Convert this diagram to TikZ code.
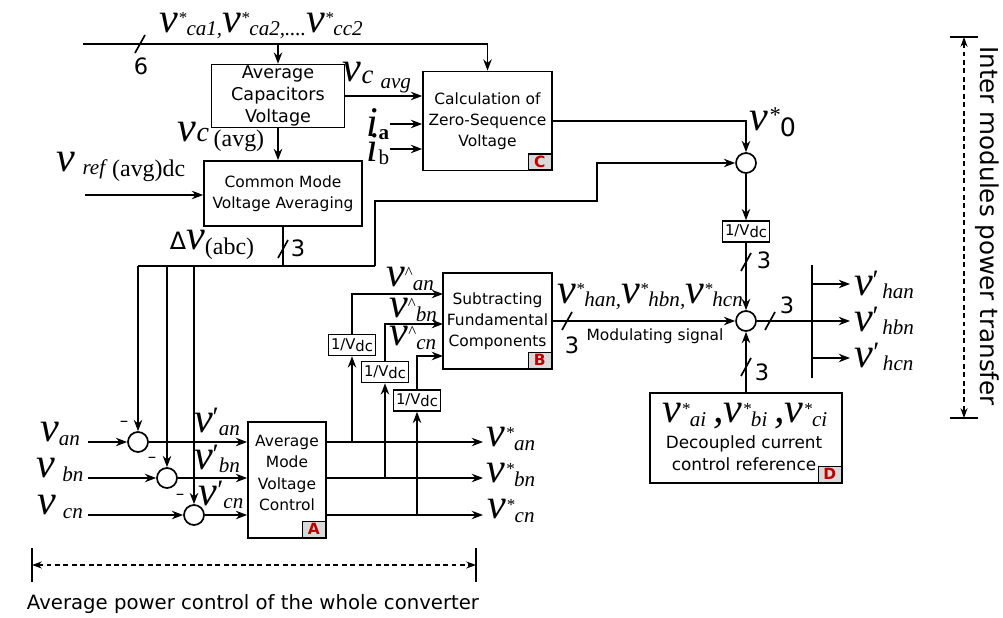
\documentclass[tikz,border=0pt]{standalone}
\usepackage{fontspec}
\setsansfont{DejaVu Sans}
\newfontfamily\tms{Liberation Serif}
\usetikzlibrary{arrows.meta}
\definecolor{tagRed}{HTML}{C00000}
\definecolor{tagGray}{HTML}{D9D9D9}
\newcommand\lsub[1]{\raisebox{-2.5pt}{\fontsize{15}{15}\selectfont #1}}
\newcommand\lsup[1]{\raisebox{6pt}{\fontsize{12}{12}\selectfont #1}}
\newcommand\vst[1]{v\lsup{*}\lsub{#1}}
\newcommand\vhat[1]{v\lsup{\upshape\textasciicircum}\lsub{#1}}
\newcommand\vpr[1]{v\raisebox{4pt}{\fontsize{20}{20}\selectfont\upshape\char"2032}\lsub{#1}}

\begin{document}
\begin{tikzpicture}[x=0.025cm,y=-0.025cm,line width=1.2pt,
  blk/.style={draw,line width=1.2pt,font=\sffamily\fontsize{11}{15}\selectfont,
              align=center,inner sep=1pt},
  gain/.style={draw,line width=1.1pt,font=\sffamily\fontsize{10.5}{11}\selectfont,
               minimum width=1.175cm,minimum height=0.525cm,inner sep=1pt},
  sumc/.style={draw,circle,line width=1.2pt,minimum size=0.5cm,inner sep=0pt},
  tag/.style={draw,line width=1pt,fill=tagGray,text=tagRed,font=\sffamily\bfseries\fontsize{11}{11}\selectfont,
              minimum width=0.575cm,minimum height=0.4cm,inner sep=0pt,anchor=south east},
  lbl/.style={font=\tms\itshape\fontsize{30}{30}\selectfont,inner sep=0pt},
  num/.style={font=\sffamily\fontsize{16}{16}\selectfont,inner sep=0pt},
  note/.style={font=\sffamily\fontsize{11}{15}\selectfont,inner sep=0pt,align=center},
  arr/.style={-{Stealth[length=8pt,width=6pt]}},
  dim/.style={line width=0.9pt,dash pattern=on 3.5pt off 2.5pt,
              {Stealth[length=7pt,width=5pt]}-{Stealth[length=7pt,width=5pt]}}]
\useasboundingbox (0,0) rectangle (1003,617);

%% Blocks
\node[blk,font=\sffamily\fontsize{12.5}{15.5}\selectfont,minimum width=3.325cm,minimum height=1.55cm]
  (acv) at (278,96) {Average\\Capacitors\\Voltage};
\node[blk,minimum width=3.225cm,minimum height=2.475cm] (zsv) at (487.5,121) {Calculation of\\Zero-Sequence\\Voltage};
\node[blk,minimum width=3.95cm,minimum height=1.625cm] (cmv) at (283,193.5) {Common Mode\\Voltage Averaging};
\node[blk,minimum width=2.725cm,minimum height=2.4cm] (sub) at (497.5,321) {Subtracting\\Fundamental\\Components};
\node[blk,minimum width=1.95cm,minimum height=2.9cm] (amv) at (287,480) {};
\node[note] (amvtxt) at (287,473) {Average\\Mode\\Voltage\\Control};
\node[blk,minimum width=4.8cm,minimum height=2.25cm] (dcc) at (746,438) {};

\node[tag] at ([xshift=-0.6pt,yshift=0.6pt]zsv.south east) {C};
\node[tag] at ([xshift=-0.6pt,yshift=0.6pt]sub.south east) {B};
\node[tag] at ([xshift=-0.6pt,yshift=0.6pt]amv.south east) {A};
\node[tag] at ([xshift=-0.6pt,yshift=0.6pt]dcc.south east) {D};

%% Gains and summing points
\node[gain] (g0) at (746,231.5) {1/V\raisebox{-0.25ex}{dc}};
\node[gain] (g1) at (352,345) {1/V\raisebox{-0.25ex}{dc}};
\node[gain] (g2) at (385,372) {1/V\raisebox{-0.25ex}{dc}};
\node[gain] (g3) at (417,400.5) {1/V\raisebox{-0.25ex}{dc}};

\node[sumc] (s1) at (746,163) {};
\node[sumc] (s2) at (746,321) {};
\node[sumc] (c1) at (138,442) {};
\node[sumc] (c2) at (167,478) {};
\node[sumc] (c3) at (194,515) {};

%% Capacitor voltages bus
\coordinate (bus0) at (83,44);
\coordinate (sl6) at (140,44);
\draw[arr] (bus0) -| (zsv.north);
\draw[arr] (acv.north |- bus0) -- (acv.north);
\draw (sl6) ++(-5,9) -- ++(10,-18);
\node[num] at (141,66) {6};
\node[lbl] at (261,26) {\vst{ca1,}\vst{ca2,....}\vst{cc2}};

\draw[arr] (acv.east) -- (acv.east -| zsv.west);
\node[lbl] at (377,78) {v\raisebox{-1pt}{\fontsize{19}{19}\selectfont c}\,\raisebox{-5pt}{\fontsize{15}{15}\selectfont avg}};
\coordinate (ia) at (390,124);
\coordinate (ib) at (390,149);
\draw[arr] (ia) -- (ia -| zsv.west);
\draw[arr] (ib) -- (ib -| zsv.west);
\node[lbl] at (378,124) {i\lsub{\upshape\bfseries a}};
\node[lbl] at (378,149) {i\lsub{\upshape b}};

\draw[arr] (acv.south) -- (acv.south |- cmv.north);
\node[lbl] at (221,137) {v\fontsize{20}{20}\selectfont c\,\raisebox{-3pt}{\fontsize{17}{17}\selectfont\upshape (avg)}};
\coordinate (vref) at (85,195);
\draw[arr] (vref) -- (vref -| cmv.west);
\node[lbl] at (121,167) {v\,\lsub{ref}\,\raisebox{-4pt}{\fontsize{17}{17}\selectfont\upshape (avg)dc}};

%% Delta v bus
\coordinate (bus1) at (375,266);
\coordinate (jog) at (597,201);
\coordinate (sl3a) at (283,249);
\draw (cmv.south) -- (cmv.south |- bus1);
\draw (sl3a) ++(-5,9) -- ++(10,-18);
\node[num] at (298,248) {3};
\node[lbl] at (212,245) {{\sffamily\upshape\fontsize{17}{17}\selectfont Δ}v\raisebox{-4pt}{\fontsize{17}{17}\selectfont\upshape (abc)}};
\draw (c1 |- bus1) -- (bus1);
\draw[arr] (bus1) |- (jog) |- (s1.west);
\draw[arr] (c1 |- bus1) -- (c1.north);
\draw[arr] (c2 |- bus1) -- (c2.north);
\draw[arr] (c3 |- bus1) -- (c3.north);

%% Zero sequence path
\draw[arr] (zsv.east) -| (s1.north);
\node[lbl] at (773,122) {v\raisebox{6pt}{\fontsize{16}{16}\selectfont *}\raisebox{-4pt}{\sffamily\upshape\fontsize{18}{18}\selectfont 0}};
\draw[arr] (s1.south) -- (g0.north);
\coordinate (sl3b) at (746,262);
\draw[arr] (g0.south) -- (s2.north);
\draw (sl3b) ++(-5,9) -- ++(10,-18);
\node[num] at (764,260) {3};

%% Input phase voltages
\coordinate (va) at (88,442);
\coordinate (vb) at (88,478);
\coordinate (vc) at (88,515);
\draw[arr] (va) -- (c1.west);
\draw[arr] (vb) -- (c2.west);
\draw[arr] (vc) -- (c3.west);
\draw[arr] (c1.east) -- (c1 -| amv.west);
\draw[arr] (c2.east) -- (c2 -| amv.west);
\draw[arr] (c3.east) -- (c3 -| amv.west);
\node[lbl] at (60,434) {v\lsub{an}};
\node[lbl] at (60,470) {v\,\lsub{bn}};
\node[lbl] at (60,507) {v\,\lsub{cn}};
\node[font=\sffamily\fontsize{12}{12}\selectfont] at (124,424) {--};
\node[font=\sffamily\fontsize{12}{12}\selectfont] at (152,460) {--};
\node[font=\sffamily\fontsize{12}{12}\selectfont] at (180,497) {--};
\node[lbl] at (217,422) {\vpr{an}};
\node[lbl] at (217,459) {\vpr{bn}};
\node[lbl] at (221,495) {\vpr{cn}};

%% A outputs and taps to B
\coordinate (oa) at (483,442);
\coordinate (ob) at (483,478);
\coordinate (oc) at (483,515);
\draw[arr] (oa -| amv.east) -- (oa);
\draw[arr] (ob -| amv.east) -- (ob);
\draw[arr] (oc -| amv.east) -- (oc);
\node[lbl] at (511,439) {\vst{an}};
\node[lbl] at (511,475) {\vst{bn}};
\node[lbl] at (511,511) {\vst{cn}};
\draw[arr] (g1 |- oa) -- (g1.south);
\draw[arr] (g2 |- ob) -- (g2.south);
\draw[arr] (g3 |- oc) -- (g3.south);

\coordinate (ina) at (443,294);
\coordinate (inb) at (443,324);
\coordinate (inc) at (443,356);
\draw[arr] (g1.north) |- (ina);
\draw[arr] (g2.north) |- (inb);
\draw[arr] (g3.north) |- (inc);
\node[lbl] at (410,279) {\vhat{an}};
\node[lbl] at (413,310) {\vhat{bn}};
\node[lbl] at (413,338) {\vhat{cn}};

%% Modulating signal and outputs
\coordinate (sl3c) at (567,321);
\draw[arr] (sub.east) -- (s2.west);
\draw (sl3c) ++(-5,9) -- ++(10,-18);
\node[num] at (572,345) {3};
\node[note] at (655,336) {Modulating signal};
\node[lbl] at (650,297) {\vst{han,}\vst{hbn,}\vst{hcn}};

\coordinate (sl3d) at (770,321);
\coordinate (barT) at (812,265);
\coordinate (barB) at (812,378);
\coordinate (oh1) at (850,284);
\coordinate (oh2) at (850,321);
\coordinate (oh3) at (850,358);
\draw[arr] (s2.east) -- (oh2);
\draw (sl3d) ++(-5,9) -- ++(10,-18);
\node[num] at (787,305) {3};
\draw (barT) -- (barB);
\draw[arr] (barT |- oh1) -- (oh1);
\draw[arr] (barT |- oh3) -- (oh3);
\node[lbl] at (884,285) {\vpr{\,han}};
\node[lbl] at (884,321) {\vpr{\,hbn}};
\node[lbl] at (884,357) {\vpr{\,hcn}};

%% Decoupled current reference
\coordinate (sl3e) at (746,367);
\draw[arr] (dcc.north) -- (s2.south);
\draw (sl3e) ++(-5,9) -- ++(10,-18);
\node[num] at (762,372) {3};
\node[lbl] at (745,416) {\vst{ai}\,,\vst{bi}\,,\vst{ci}};
\node[note,font=\sffamily\fontsize{12}{16}\selectfont] at (744,453) {Decoupled current\\control reference};

%% Dimension arrows
\coordinate (dl) at (32,565);
\coordinate (dr) at (476,565);
\draw (32,548) -- (32,582);
\draw (476,548) -- (476,582);
\draw[dim] (dl) -- (dr);
\node[font=\sffamily\fontsize{14}{16}\selectfont] at (253,604) {Average power control of the whole converter};

\coordinate (du) at (964,37);
\coordinate (dd) at (964,418);
\draw (950,37) -- (978,37);
\draw (950,418) -- (978,418);
\draw[dim] (du) -- (dd);
\node[font=\sffamily\fontsize{17.5}{18}\selectfont,rotate=-90] at (987,226) {Inter modules power transfer};
\end{tikzpicture}
\end{document}
